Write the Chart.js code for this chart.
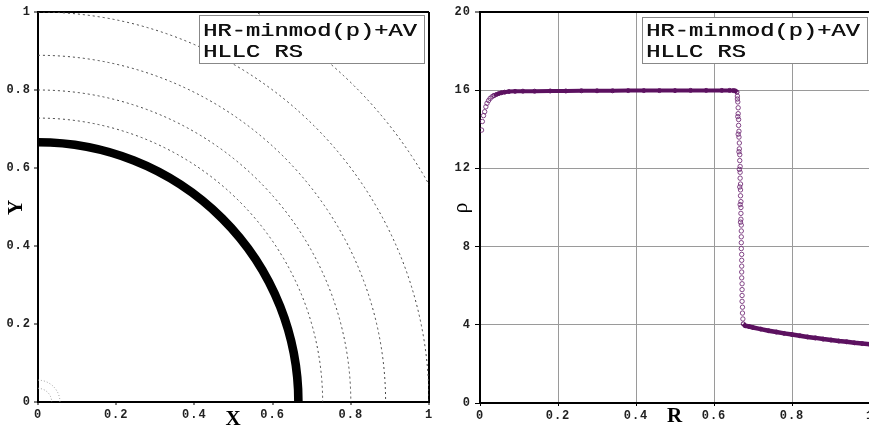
<!DOCTYPE html>
<html>
<head>
<meta charset="utf-8">
<script src="https://cdn.jsdelivr.net/npm/chart.js@4.4.0/dist/chart.umd.min.js"></script>
<style>
  html, body { margin: 0; padding: 0; background: #fff; overflow: hidden; }
  #wrap { position: relative; width: 869px; height: 430px; overflow: hidden; background: #fff; }
  #left { position: absolute; left: 0; top: 0; }
  #right { position: absolute; left: 436px; top: 0; }
</style>
</head>
<body>
<div id="wrap">
  <canvas id="left" width="436" height="430"></canvas>
  <canvas id="right" width="446" height="430"></canvas>
</div>
<script>
// left panel: density contours (quarter circles around the origin)
const shockInner = 0.655;
const shockOuter = 0.677;
const contourRadii = [0.728, 0.80, 0.889, 1.0, 1.145];
const coreRadii = [0.035, 0.056];

// tick labels
const xyTicks = [0, 0.2, 0.4, 0.6, 0.8, 1];
const rhoTicks = [0, 4, 8, 12, 16, 20];

// right panel: rho vs R
const riseR   = [0.004, 0.006, 0.009, 0.012, 0.015, 0.018, 0.022, 0.026, 0.031, 0.036];
const riseRho = [13.96, 14.4, 14.7, 14.9, 15.15, 15.33, 15.47, 15.58, 15.67, 15.73];

const plateauR   = [0.036, 0.042, 0.048, 0.055, 0.063, 0.074, 0.09, 0.11, 0.14, 0.18, 0.22, 0.26, 0.3, 0.34, 0.38, 0.42, 0.46, 0.5, 0.54, 0.58, 0.62, 0.64, 0.65, 0.655, 0.659];
const plateauRho = [15.73, 15.78, 15.83, 15.87, 15.9, 15.93, 15.94, 15.95, 15.95, 15.96, 15.96, 15.97, 15.97, 15.97, 15.98, 15.98, 15.98, 15.98, 15.99, 15.99, 15.99, 15.99, 15.98, 15.96, 15.9];

const dropR   = [0.660, 0.661, 0.662, 0.662, 0.663, 0.663, 0.664, 0.664, 0.665, 0.665, 0.666, 0.666, 0.667, 0.667, 0.667, 0.668, 0.668, 0.668, 0.669, 0.669, 0.669, 0.669, 0.670, 0.670, 0.670, 0.670, 0.670, 0.671, 0.671, 0.671, 0.671, 0.671, 0.672, 0.672, 0.672, 0.672, 0.673, 0.673, 0.674,
                 0.660, 0.661, 0.662, 0.664, 0.665, 0.666, 0.667, 0.668];
const dropRho = [15.7, 15.4, 15.1, 14.8, 14.5, 14.2, 13.9, 13.6, 13.3, 13.0, 12.7, 12.4, 12.1, 11.8, 11.5, 11.2, 10.9, 10.6, 10.3, 10.0, 9.7, 9.4, 9.1, 8.8, 8.5, 8.2, 7.9, 7.6, 7.3, 7.0, 6.7, 6.4, 6.1, 5.8, 5.5, 5.2, 4.9, 4.6, 4.3,
                 15.55, 14.65, 13.75, 12.85, 11.95, 11.05, 10.15, 9.25];

const tailR   = [0.675, 0.68, 0.69, 0.7, 0.72, 0.74, 0.76, 0.78, 0.8, 0.82, 0.84, 0.86, 0.88, 0.9, 0.92, 0.94, 0.96, 0.98, 1.0];
const tailRho = [4.05, 3.95, 3.91, 3.86, 3.78, 3.7, 3.63, 3.56, 3.5, 3.44, 3.38, 3.33, 3.27, 3.22, 3.17, 3.13, 3.08, 3.04, 3.0];

const legendLines = ['HR-minmod(p)+AV', 'HLLC RS'];

const purple = '#5c1160';
const purpleLight = 'rgba(110, 40, 115, 0.85)';
const tickFont = { family: '"Liberation Mono", monospace', size: 12, weight: 'bold' };
const titleFont = { family: '"Liberation Serif", serif', size: 21, weight: 'bold', lineHeight: 1 };

const pts = (xs, ys) => xs.map((x, i) => ({ x: x, y: ys[i] }));

// wide-spaced tick labels like the original plot
const spacing = {
  id: 'spacing',
  beforeDraw(chart) { chart.ctx.letterSpacing = '1px'; }
};

function noteBox(right, top, h, base) {
  return {
    id: 'noteBox',
    afterDraw(chart) {
      const { ctx, chartArea } = chart;
      const w = 225;
      const x0 = chartArea.right - right - w;
      const y0 = chartArea.top + top;
      ctx.save();
      ctx.letterSpacing = '0px';
      ctx.fillStyle = '#fff';
      ctx.fillRect(x0, y0, w, h);
      ctx.strokeStyle = '#888';
      ctx.lineWidth = 1;
      ctx.strokeRect(x0 + 0.5, y0 + 0.5, w, h);
      ctx.fillStyle = '#111';
      ctx.font = '19px "Liberation Mono", monospace';
      legendLines.forEach((t, i) => {
        ctx.save();
        ctx.translate(x0 + 4, y0 + base + i * 21);
        ctx.scale(1.25, 1);
        ctx.fillText(t, 0, 0);
        ctx.fillText(t, 0.4, 0);
        ctx.restore();
      });
      ctx.restore();
    }
  };
}

const contours = {
  id: 'contours',
  beforeDatasetsDraw(chart) {
    const { ctx, chartArea: a, scales: { x, y } } = chart;
    const cx = x.getPixelForValue(0), cy = y.getPixelForValue(0);
    const radii = r => [x.getPixelForValue(r) - cx, cy - y.getPixelForValue(r)];
    const arc = r => {
      const [rx, ry] = radii(r);
      ctx.beginPath();
      ctx.ellipse(cx, cy, rx, ry, 0, -Math.PI / 2, 0);
      ctx.stroke();
    };
    ctx.save();
    ctx.beginPath();
    ctx.rect(a.left, a.top, a.width, a.height);
    ctx.clip();
    ctx.setLineDash([2, 3]);
    ctx.lineWidth = 1;
    ctx.strokeStyle = '#444';
    contourRadii.forEach(arc);
    ctx.strokeStyle = '#999';
    ctx.setLineDash([1, 2]);
    coreRadii.forEach(arc);
    // shock front
    ctx.setLineDash([]);
    const [ox] = radii(shockOuter);
    const [ix] = radii(shockInner);
    ctx.lineWidth = ox - ix;
    ctx.strokeStyle = '#000';
    arc((shockInner + shockOuter) / 2);
    ctx.restore();
  }
};

function edgeColor(maxV, inner) {
  return c => (c.tick && c.tick.value === maxV) ? '#000' : inner;
}
function edgeWidth(maxV) {
  return c => (c.tick && c.tick.value === maxV) ? 2 : 1;
}

// left panel
new Chart(document.getElementById('left'), {
  type: 'scatter',
  data: { datasets: [] },
  options: {
    responsive: false,
    animation: false,
    events: [],
    layout: { padding: { top: 12, right: 7, left: 0, bottom: 0 } },
    plugins: { legend: { display: false }, tooltip: { enabled: false } },
    scales: {
      x: {
        type: 'linear', min: 0, max: 1,
        afterBuildTicks: s => { s.ticks = xyTicks.map(v => ({ value: v })); },
        afterFit: s => { s.height = 28; },
        grid: { color: edgeColor(1, 'rgba(0,0,0,0)'), lineWidth: 2, tickLength: 3, tickColor: '#000', tickWidth: 1 },
        border: { color: '#000', width: 2 },
        ticks: { padding: 3, font: tickFont, color: '#222', maxRotation: 0, callback: v => String(v) },
        title: { display: true, text: 'X', font: titleFont, color: '#000', padding: { top: 0, bottom: 0 } }
      },
      y: {
        type: 'linear', min: 0, max: 1,
        afterBuildTicks: s => { s.ticks = xyTicks.map(v => ({ value: v })); },
        afterFit: s => { s.width = 38; },
        grid: { color: edgeColor(1, 'rgba(0,0,0,0)'), lineWidth: 2, tickLength: 4, tickColor: '#000', tickWidth: 1 },
        border: { color: '#000', width: 2 },
        ticks: { padding: 3, font: tickFont, color: '#222', callback: v => String(v) },
        title: { display: true, text: 'Y', font: titleFont, color: '#000', padding: { top: 6, bottom: 0 } }
      }
    }
  },
  plugins: [spacing, contours, noteBox(5, 3, 48, 21)]
});

// right panel
const markerStyle = { showLine: false, pointRadius: 2.2, pointBorderWidth: 1, pointBorderColor: purpleLight, pointBackgroundColor: 'rgba(0,0,0,0)' };
new Chart(document.getElementById('right'), {
  type: 'scatter',
  data: {
    datasets: [
      Object.assign({ data: pts(riseR, riseRho) }, markerStyle),
      { data: pts(plateauR, plateauRho), showLine: true, borderColor: purple, borderWidth: 4, tension: 0,
        pointRadius: 2, pointBorderWidth: 1, pointBorderColor: purple, pointBackgroundColor: 'rgba(0,0,0,0)' },
      Object.assign({ data: pts(dropR, dropRho) }, markerStyle),
      { data: pts(tailR, tailRho), showLine: true, borderColor: purple, borderWidth: 4.5, tension: 0,
        pointRadius: 2, pointBorderWidth: 1, pointBorderColor: purple, pointBackgroundColor: 'rgba(0,0,0,0)' }
    ]
  },
  options: {
    responsive: false,
    animation: false,
    events: [],
    layout: { padding: { top: 12, right: 12, left: 0, bottom: 0 } },
    plugins: { legend: { display: false }, tooltip: { enabled: false } },
    scales: {
      x: {
        type: 'linear', min: 0, max: 1,
        afterBuildTicks: s => { s.ticks = xyTicks.map(v => ({ value: v })); },
        afterFit: s => { s.height = 27; },
        grid: { color: edgeColor(1, '#9a9a9a'), lineWidth: edgeWidth(1), tickLength: 3, tickColor: '#000', tickWidth: 1 },
        border: { color: '#000', width: 2 },
        ticks: { padding: 3, font: tickFont, color: '#222', maxRotation: 0, callback: v => String(v) },
        title: { display: true, text: 'R', font: titleFont, color: '#000', padding: { top: 0, bottom: 3 } }
      },
      y: {
        type: 'linear', min: 0, max: 20,
        afterBuildTicks: s => { s.ticks = rhoTicks.map(v => ({ value: v })); },
        afterFit: s => { s.width = 44; },
        grid: { color: edgeColor(20, '#9a9a9a'), lineWidth: edgeWidth(20), tickLength: 5, tickColor: '#000', tickWidth: 1 },
        border: { color: '#000', width: 2 },
        ticks: { padding: 4, font: tickFont, color: '#222', callback: v => String(v) },
        title: { display: true, text: 'ρ', font: { family: '"Liberation Serif", serif', size: 22, lineHeight: 1 }, color: '#000', padding: { top: 14, bottom: 0 } }
      }
    }
  },
  plugins: [spacing, noteBox(3, 5, 46, 19)]
});
</script>
</body>
</html>
